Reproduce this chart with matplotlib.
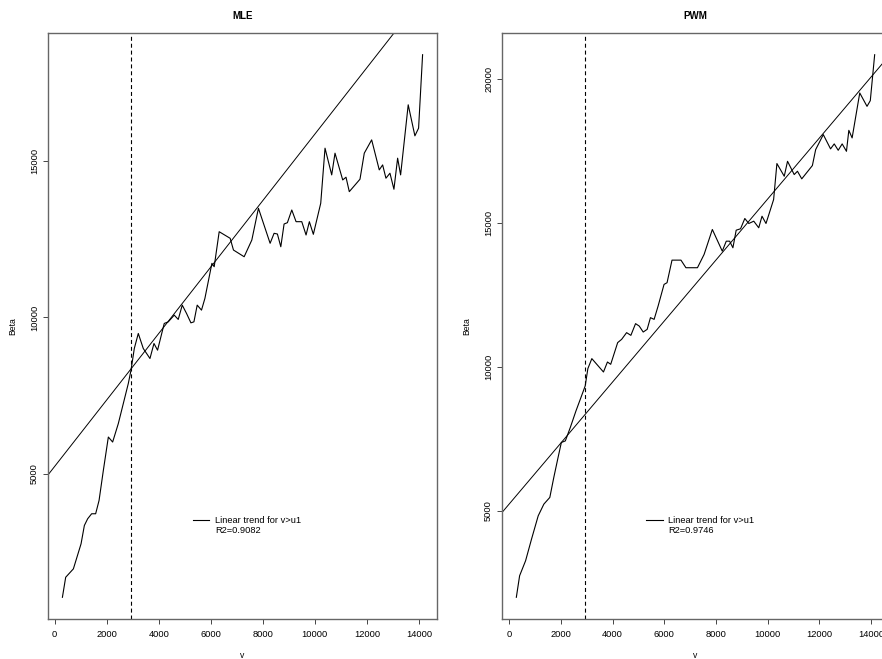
import numpy as np
import matplotlib
matplotlib.use("Agg")
import matplotlib.pyplot as plt
from matplotlib.lines import Line2D

plt.rcParams['font.family'] = ['Liberation Sans', 'DejaVu Sans']

# threshold u1 (dashed line)
u1 = 2950

# MLE estimates of beta against threshold v
v_mle = [296, 422, 718, 1013, 1140, 1267, 1420, 1574, 1705, 1870, 2062, 2227, 2445,
         2637, 2829, 2933, 3060, 3213, 3405, 3662, 3816, 3954, 4211, 4365, 4595, 4749,
         4903, 5068, 5236, 5352, 5478, 5643, 5774, 6043, 6131, 6323, 6745, 6872, 7283,
         7578, 7832, 8281, 8434, 8561, 8692, 8818, 8945, 9114, 9279, 9498, 9663, 9790,
         9943, 10227, 10392, 10649, 10776, 11072, 11199, 11325, 11736, 11901, 12185,
         12477, 12607, 12734, 12888, 13041, 13183, 13298, 13590, 13847, 13989, 14143]
beta_mle = [1045, 1686, 1955, 2757, 3343, 3558, 3718, 3718, 4144, 5106, 6173, 6013, 6603,
            7244, 7885, 8311, 9006, 9487, 9006, 8686, 9167, 8952, 9808, 9859, 10074, 9936,
            10394, 10128, 9827, 9859, 10394, 10234, 10609, 11731, 11622, 12743, 12532,
            12157, 11942, 12477, 13493, 12372, 12692, 12670, 12262, 12990, 13032, 13439,
            13064, 13064, 12638, 13064, 12660, 13654, 15416, 14561, 15256, 14400, 14487,
            14025, 14423, 15256, 15682, 14721, 14881, 14455, 14615, 14102, 15096, 14561,
            16804, 15811, 16057, 18407]

# PWM estimates
v_pwm = [280, 407, 638, 868, 1126, 1345, 1575, 1729, 1894, 2021, 2175, 2367, 2586, 2778,
         2943, 3047, 3200, 3650, 3804, 3930, 4199, 4353, 4545, 4710, 4891, 5033, 5187,
         5340, 5467, 5609, 5763, 5993, 6109, 6301, 6647, 6839, 7285, 7542, 7861, 8245,
         8399, 8529, 8656, 8783, 8952, 9117, 9271, 9463, 9655, 9782, 9936, 10231, 10358,
         10642, 10769, 11027, 11153, 11319, 11730, 11857, 12152, 12433, 12575, 12729,
         12882, 13048, 13140, 13267, 13562, 13843, 13970, 14139]
beta_pwm = [1993, 2743, 3264, 4017, 4826, 5233, 5465, 6160, 6854, 7375, 7430, 7896, 8472,
            8937, 9340, 9944, 10291, 9826, 10173, 10093, 10847, 10961, 11194, 11100, 11507,
            11423, 11215, 11309, 11715, 11656, 12118, 12871, 12930, 13715, 13715, 13451,
            13451, 13913, 14781, 14027, 14374, 14374, 14145, 14756, 14805, 15163, 14989,
            15069, 14840, 15242, 14989, 15822, 17073, 16631, 17152, 16690, 16805, 16541,
            17003, 17558, 18079, 17583, 17756, 17534, 17756, 17499, 18228, 17964, 19527,
            19062, 19260, 20857]

# linear trend lines (intercept, slope)
trend_mle = (5235, 1.063)
trend_pwm = (5232, 1.0607)
r2_mle = "R2=0.9082"
r2_pwm = "R2=0.9746"

fs = 6.7
fig = plt.figure(figsize=(8.82, 6.59), dpi=100)
ax1 = fig.add_axes([48/882, 1 - 619/659, 389/882, 586/659])
ax2 = fig.add_axes([502/882, 1 - 619/659, 387/882, 586/659])


def r_lim(vals):
    # R style axis range: data range plus 4% each side
    lo, hi = min(vals), max(vals)
    d = 0.04 * (hi - lo)
    return lo - d, hi + d


def panel(ax, v, beta, trend, r2, title, yticks):
    ax.plot(v, beta, color='black', lw=0.8)
    ax.axline((0, trend[0]), slope=trend[1], color='black', lw=0.7)
    ax.axvline(u1, color='black', lw=0.8, linestyle=(0, (3.6, 2.6)))
    ax.set_xticks(np.arange(0, 14001, 2000))
    ax.set_yticks(yticks)
    ax.set_yticklabels([str(t) for t in yticks], rotation=90, va='center')
    ax.set_xlim(*r_lim(v))
    ax.set_ylim(*r_lim(beta))
    ax.tick_params(labelsize=fs, length=3.4, width=0.7, color='#444444', pad=3)
    ax.tick_params(axis='x', pad=4.5)
    for s in ax.spines.values():
        s.set_color('#666666')
        s.set_linewidth(1.0)
    ax.set_title(title, fontsize=fs + 0.3, fontweight='bold', pad=10)
    ax.set_xlabel('v', fontsize=fs - 0.5, labelpad=9)
    ax.set_ylabel('Beta', fontsize=fs - 0.5, labelpad=9)
    handles = [Line2D([], [], color='black', lw=0.8),
               Line2D([], [], color='none')]
    ax.legend(handles, ['Linear trend for v>u1', r2], frameon=False, fontsize=fs,
              loc='upper left', bbox_to_anchor=(0.373, 0.176), borderpad=0,
              borderaxespad=0, handlelength=1.75, handletextpad=0.6,
              labelspacing=0.15)


panel(ax1, v_mle, beta_mle, trend_mle, r2_mle, 'MLE', [5000, 10000, 15000])
panel(ax2, v_pwm, beta_pwm, trend_pwm, r2_pwm, 'PWM', [5000, 10000, 15000, 20000])

fig.savefig('out.png', dpi=100)
